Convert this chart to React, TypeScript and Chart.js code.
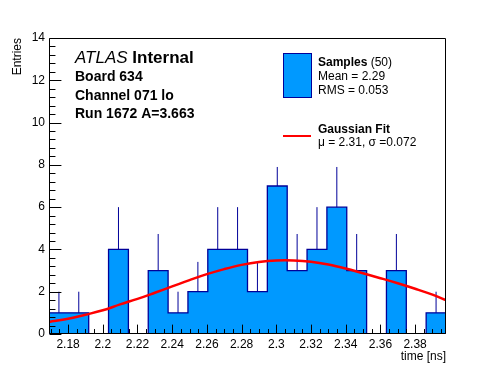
import React, { useEffect, useRef } from "react";
import { Chart, registerables } from "chart.js";

Chart.register(...registerables);

// ---------- data ----------
const binEdges = [
  2.169, 2.18044, 2.19188, 2.20332, 2.21476, 2.2262, 2.23764, 2.24908, 2.26052, 2.27196,
  2.2834, 2.29484, 2.30628, 2.31772, 2.32916, 2.3406, 2.35204, 2.36348, 2.37492, 2.38636, 2.3978,
];
const binCounts = [1, 1, 0, 4, 0, 3, 1, 2, 4, 4, 2, 7, 3, 4, 6, 3, 0, 3, 0, 1];
const errorTops = [2, 2, 0, 6, 0, 4.73, 2, 3.41, 6, 6, 3.41, 7.9, 4.73, 6, 7.9, 4.73, 0, 4.73, 0, 2];

const fitX = [
  2.169, 2.18, 2.19, 2.2, 2.21, 2.22, 2.23, 2.24, 2.25, 2.26, 2.27, 2.28, 2.29, 2.3, 2.31,
  2.32, 2.33, 2.34, 2.35, 2.36, 2.37, 2.38, 2.39, 2.3978,
];
const fitY = [
  0.57, 0.72, 0.91, 1.12, 1.4, 1.66, 1.95, 2.25, 2.55, 2.83, 3.07, 3.27, 3.41, 3.48, 3.48,
  3.42, 3.29, 3.1, 2.87, 2.64, 2.4, 2.14, 1.86, 1.6,
];

const xTickValues = [2.18, 2.2, 2.22, 2.24, 2.26, 2.28, 2.3, 2.32, 2.34, 2.36, 2.38];
const yTickValues = [0, 2, 4, 6, 8, 10, 12, 14];
const xMinorStep = 0.005;
const yMinorStep = 0.4;

const xAxisTitle = "time [ns]";
const yAxisTitle = "Entries";
const atlasWord = "ATLAS";
const atlasTag = "Internal";
const infoLines = ["Board 634", "Channel 071 lo", "Run 1672 A=3.663"];
const samplesName = "Samples";
const samplesCount = "(50)";
const samplesStats = ["Mean = 2.29", "RMS = 0.053"];
const fitName = "Gaussian Fit";
const fitStats = "\u03bc = 2.31, \u03c3 =0.072";

// ---------- style ----------
const FONT = '"Liberation Sans", Arial, Helvetica, sans-serif';
const FILL = "#0099ff";
const EDGE = "#000099";
const RED = "#ff0000";

const decorPlugin = {
  id: "decor",
  beforeDraw(chart: any) {
    const ctx = chart.ctx;
    ctx.save();
    ctx.fillStyle = "#ffffff";
    ctx.fillRect(0, 0, chart.width, chart.height);
    ctx.restore();
  },
  afterDatasetsDraw(chart: any) {
    const ctx = chart.ctx;
    const { left, right, top, bottom } = chart.chartArea;
    const xs = chart.scales.x;
    const ys = chart.scales.y;
    ctx.save();
    ctx.strokeStyle = "#000000";
    ctx.lineWidth = 1;
    const L = Math.round(left) + 0.5;
    const R = Math.round(right) - 0.5;
    const T = Math.round(top) + 0.5;
    const B = Math.round(bottom) - 0.5;
    ctx.beginPath();
    ctx.rect(L, T, R - L, B - T);
    ctx.stroke();

    const h = bottom - top;
    const w = right - left;
    const xMajLen = 0.03 * h;
    const yMajLen = 0.03 * w;
    ctx.beginPath();
    const x0 = xs.min, x1 = xs.max;
    for (let v = Math.ceil(x0 / xMinorStep) * xMinorStep; v <= x1 + 1e-9; v += xMinorStep) {
      const px = Math.round(xs.getPixelForValue(v)) + 0.5;
      const isMaj = xTickValues.some((t) => Math.abs(t - v) < 1e-6);
      const len = isMaj ? xMajLen : xMajLen / 2;
      ctx.moveTo(px, B);
      ctx.lineTo(px, B - len);
    }
    for (let v = 0; v <= ys.max + 1e-9; v += yMinorStep) {
      const py = Math.round(ys.getPixelForValue(v)) + 0.5;
      const isMaj = yTickValues.some((t) => Math.abs(t - v) < 1e-6);
      const len = isMaj ? yMajLen : yMajLen / 2;
      ctx.moveTo(L, py);
      ctx.lineTo(L + len, py);
    }
    ctx.stroke();
    ctx.restore();
  },
  afterDraw(chart: any) {
    const ctx = chart.ctx;
    ctx.save();
    ctx.fillStyle = "#000000";
    ctx.textBaseline = "alphabetic";
    ctx.textAlign = "left";

    // ATLAS Internal
    ctx.font = `italic 17px ${FONT}`;
    ctx.fillText(atlasWord, 75, 63);
    const aw = ctx.measureText(atlasWord + " ").width;
    ctx.font = `bold 17px ${FONT}`;
    ctx.fillText(atlasTag, 75 + aw, 63);

    ctx.font = `bold 14px ${FONT}`;
    infoLines.forEach((s, i) => ctx.fillText(s, 75, 81 + i * 18.5));

    // legend: samples
    ctx.fillStyle = FILL;
    ctx.fillRect(283, 53, 28, 44);
    ctx.strokeStyle = EDGE;
    ctx.lineWidth = 1;
    ctx.strokeRect(283.5, 53.5, 28, 44);

    ctx.fillStyle = "#000000";
    ctx.font = `bold 12px ${FONT}`;
    ctx.fillText(samplesName, 318, 66);
    const sw = ctx.measureText(samplesName + " ").width;
    ctx.font = `12px ${FONT}`;
    ctx.fillText(samplesCount, 318 + sw, 66);
    samplesStats.forEach((s, i) => ctx.fillText(s, 318, 80 + i * 13.5));

    // legend: fit
    ctx.strokeStyle = RED;
    ctx.lineWidth = 2;
    ctx.beginPath();
    ctx.moveTo(283, 136);
    ctx.lineTo(311, 136);
    ctx.stroke();
    ctx.font = `bold 12px ${FONT}`;
    ctx.fillText(fitName, 318, 133);
    ctx.font = `12px ${FONT}`;
    ctx.fillText(fitStats, 318, 146);
    ctx.restore();
  },
};

export default function App() {
  const canvasRef = useRef<HTMLCanvasElement | null>(null);

  useEffect(() => {
    document.body.style.margin = "0";
    const canvas = canvasRef.current;
    if (!canvas) return;

    const histPoints: { x: number; y: number }[] = [{ x: binEdges[0], y: 0 }];
    binCounts.forEach((c, i) => histPoints.push({ x: binEdges[i], y: c }));
    histPoints.push({ x: binEdges[binEdges.length - 1], y: binCounts[binCounts.length - 1] });
    histPoints.push({ x: binEdges[binEdges.length - 1], y: 0 });

    const errPoints: { x: number; y: number | null }[] = [];
    binCounts.forEach((c, i) => {
      if (c <= 0) return;
      const xc = (binEdges[i] + binEdges[i + 1]) / 2;
      errPoints.push({ x: xc, y: c });
      errPoints.push({ x: xc, y: errorTops[i] });
      errPoints.push({ x: xc, y: null });
    });

    const fitPoints = fitX.map((x, i) => ({ x, y: fitY[i] }));

    const chart = new Chart(canvas, {
      type: "line",
      data: {
        datasets: [
          {
            label: "fit",
            data: fitPoints,
            borderColor: RED,
            borderWidth: 2.5,
            pointRadius: 0,
            tension: 0.4,
            fill: false,
          },
          {
            label: "errors",
            data: errPoints as any,
            borderColor: EDGE,
            borderWidth: 1,
            pointRadius: 0,
            spanGaps: false,
            fill: false,
          },
          {
            label: "hist",
            data: histPoints,
            stepped: "before",
            borderColor: EDGE,
            borderWidth: 1.3,
            backgroundColor: FILL,
            pointRadius: 0,
            fill: "origin",
          },
        ],
      },
      options: {
        animation: false,
        responsive: false,
        events: [],
        layout: { padding: { top: 38, right: 50, left: 0, bottom: 0 } },
        plugins: { legend: { display: false }, tooltip: { enabled: false } },
        scales: {
          x: {
            type: "linear",
            min: binEdges[0],
            max: binEdges[binEdges.length - 1],
            grid: { display: false, drawTicks: false },
            border: { display: false },
            afterBuildTicks: (s: any) => {
              s.ticks = xTickValues.map((value) => ({ value }));
            },
            afterFit: (s: any) => {
              s.height = 38;
            },
            ticks: {
              padding: 3,
              autoSkip: false,
              maxRotation: 0,
              color: "#000000",
              font: { family: FONT, size: 12 },
              callback: (v: any) => String(Number(Number(v).toFixed(3))),
            },
            title: {
              display: true,
              text: xAxisTitle,
              align: "end",
              color: "#000000",
              font: { family: FONT, size: 12 },
              padding: { top: 0, bottom: 8 },
            },
          },
          y: {
            type: "linear",
            min: yTickValues[0],
            max: yTickValues[yTickValues.length - 1],
            grid: { display: false, drawTicks: false },
            border: { display: false },
            afterBuildTicks: (s: any) => {
              s.ticks = yTickValues.map((value) => ({ value }));
            },
            afterFit: (s: any) => {
              s.width = 49;
            },
            ticks: {
              padding: 4,
              color: "#000000",
              font: { family: FONT, size: 12 },
            },
            title: {
              display: true,
              text: yAxisTitle,
              align: "end",
              color: "#000000",
              font: { family: FONT, size: 12 },
              padding: { top: 10, bottom: 0 },
            },
          },
        },
      },
      plugins: [decorPlugin],
    } as any);

    return () => chart.destroy();
  }, []);

  return (
    <div style={{ position: "absolute", left: 0, top: 0, width: 496, height: 372 }}>
      <canvas ref={canvasRef} width={496} height={372} style={{ display: "block" }} />
    </div>
  );
}
